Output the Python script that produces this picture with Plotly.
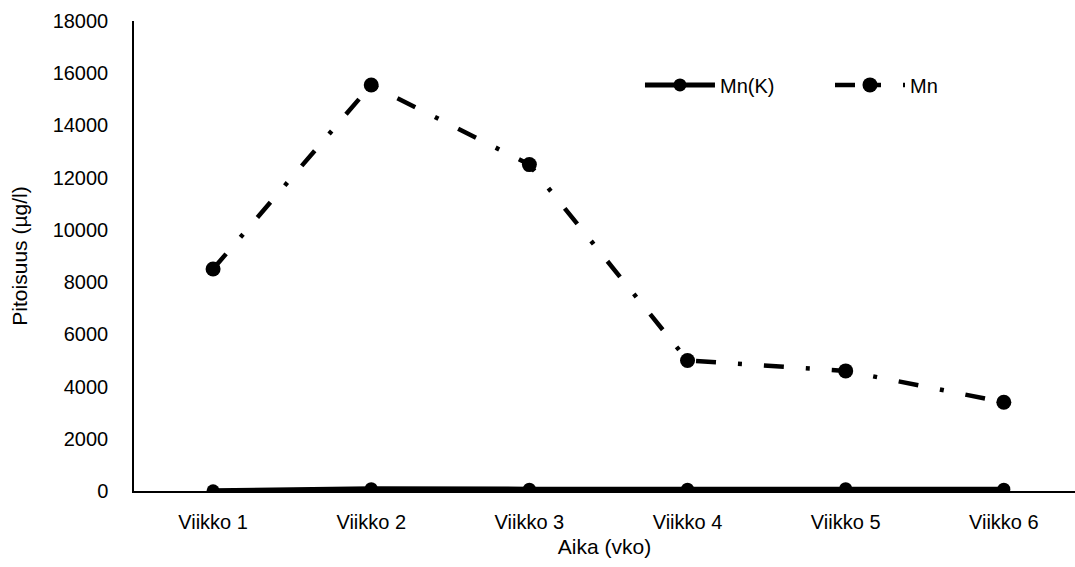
import plotly.graph_objects as go

weeks = ["Viikko 1", "Viikko 2", "Viikko 3", "Viikko 4", "Viikko 5", "Viikko 6"]
mn_k = [10, 90, 70, 70, 90, 70]
mn = [8500, 15550, 12500, 5000, 4600, 3400]
y_ticks = [0, 2000, 4000, 6000, 8000, 10000, 12000, 14000, 16000, 18000]
y_tick_labels = [str(v) for v in y_ticks]

font_family = "Liberation Sans, Arial, sans-serif"

fig = go.Figure()
fig.add_trace(go.Scatter(
    x=weeks, y=mn_k, name="Mn(K)", mode="lines+markers",
    line=dict(color="black", width=5),
    marker=dict(color="black", size=13),
))
fig.add_trace(go.Scatter(
    x=weeks, y=mn, name="Mn", mode="lines+markers",
    line=dict(color="black", width=4.5, dash="20px,22px,4px,22px"),
    marker=dict(color="black", size=15),
))

fig.update_layout(
    width=1075, height=567,
    margin=dict(l=134, r=0, t=21, b=76, autoexpand=False),
    paper_bgcolor="white", plot_bgcolor="white",
    font=dict(family=font_family, size=20, color="black"),
    showlegend=True,
    legend=dict(
        orientation="h", x=0.5377, y=0.864, xanchor="left", yanchor="middle",
        bgcolor="rgba(0,0,0,0)", itemwidth=70,
        entrywidth=105, entrywidthmode="pixels",
        font=dict(size=20),
    ),
    xaxis=dict(
        range=[-0.5, 5.45], showline=True, linecolor="black", linewidth=1.5,
        showgrid=False, zeroline=False, ticks="", ticklabelstandoff=12,
        tickfont=dict(size=20),
        title=dict(text="Aika (vko)", standoff=8, font=dict(size=21)),
    ),
    yaxis=dict(
        range=[0, 18000], tickvals=y_ticks, ticktext=y_tick_labels,
        showline=True, linecolor="black",
        linewidth=1.5, showgrid=False, zeroline=False, ticks="",
        ticklabelstandoff=20, tickfont=dict(size=20),
        title=dict(text="Pitoisuus (µg/l)", standoff=19, font=dict(size=21)),
    ),
)

fig.write_html("out.html")
